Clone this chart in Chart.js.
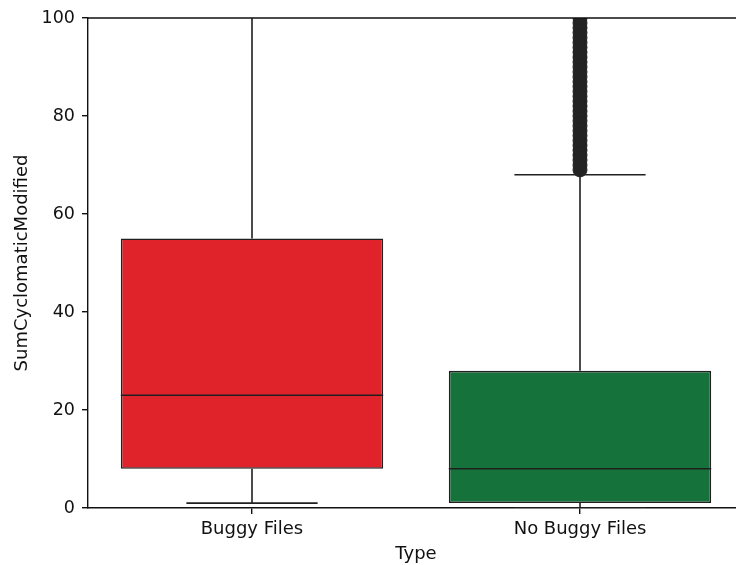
<!DOCTYPE html>
<html>
<head>
<meta charset="utf-8">
<script src="https://cdn.jsdelivr.net/npm/chart.js@4/dist/chart.umd.min.js"></script>
<style>
  html, body { margin: 0; padding: 0; background: #fff; overflow: hidden; }
  #wrap { width: 760px; height: 565px; }
</style>
</head>
<body>
<div id="wrap"><canvas id="c" width="760" height="565"></canvas></div>
<script>
// Box-plot summary per file group
const categories = ['Buggy Files', 'No Buggy Files'];
const lowerWhisker = [1, 0];
const q1Values = [8, 1];
const medianValues = [23, 8];
const q3Values = [55, 28];
const upperWhisker = [130, 68];
const boxColors = ['#e0232a', '#16723b'];

// Outliers of the "No Buggy Files" group (values above the upper whisker)
const outlierCategory = 'No Buggy Files';
const outlierValues = [69, 70, 71, 72, 73, 74, 75, 76, 77, 78, 79, 80, 81, 82, 83, 84, 85, 86, 87, 88,
  89, 90, 91, 92, 93, 94, 95, 96, 97, 98, 99, 100, 104, 110, 118, 131, 150];

const yTicks = [0, 20, 40, 60, 80, 100];

const LINE = '#202020';
const FONT = 'DejaVu Sans';

// Whiskers, caps and medians drawn around the floating-bar boxes
const boxPlotLines = {
  id: 'boxPlotLines',
  beforeDatasetsDraw(chart) {
    const { ctx, chartArea, scales: { y } } = chart;
    const meta = chart.getDatasetMeta(0);
    ctx.save();
    ctx.beginPath();
    ctx.rect(chartArea.left, chartArea.top, chartArea.right - chartArea.left, chartArea.bottom - chartArea.top);
    ctx.clip();
    ctx.strokeStyle = LINE;
    ctx.lineWidth = 1.6;
    meta.data.forEach((bar, i) => {
      const x = bar.x;
      const half = bar.width / 4;
      const yLo = y.getPixelForValue(lowerWhisker[i]);
      const yQ1 = y.getPixelForValue(q1Values[i]);
      const yQ3 = y.getPixelForValue(q3Values[i]);
      const yHi = y.getPixelForValue(upperWhisker[i]);
      ctx.beginPath();
      ctx.moveTo(x, yQ3); ctx.lineTo(x, yHi);
      ctx.moveTo(x, yQ1); ctx.lineTo(x, yLo);
      ctx.moveTo(x - half, yLo); ctx.lineTo(x + half, yLo);
      ctx.moveTo(x - half, yHi); ctx.lineTo(x + half, yHi);
      ctx.stroke();
    });
    ctx.restore();
  },
  afterDatasetsDraw(chart) {
    const { ctx, chartArea, scales: { y } } = chart;
    const meta = chart.getDatasetMeta(0);
    ctx.save();
    ctx.strokeStyle = LINE;
    ctx.lineWidth = 1.6;
    meta.data.forEach((bar, i) => {
      const ym = y.getPixelForValue(medianValues[i]);
      ctx.beginPath();
      ctx.moveTo(bar.x - bar.width / 2, ym);
      ctx.lineTo(bar.x + bar.width / 2, ym);
      ctx.stroke();
    });
    // top and right frame lines
    ctx.strokeStyle = '#111';
    ctx.lineWidth = 1.4;
    ctx.beginPath();
    ctx.moveTo(chartArea.left, chartArea.top);
    ctx.lineTo(chartArea.right, chartArea.top);
    ctx.lineTo(chartArea.right, chartArea.bottom);
    ctx.stroke();
    ctx.restore();
  }
};

new Chart(document.getElementById('c'), {
  type: 'bar',
  data: {
    labels: categories,
    datasets: [
      {
        label: 'IQR',
        data: q1Values.map((v, i) => [v, q3Values[i]]),
        backgroundColor: boxColors,
        borderColor: LINE,
        borderWidth: 1.6,
        borderSkipped: false,
        barPercentage: 0.8,
        categoryPercentage: 1.0,
        order: 2
      },
      {
        type: 'line',
        label: 'Outliers',
        data: outlierValues.map(v => ({ x: outlierCategory, y: v })),
        showLine: false,
        pointStyle: 'circle',
        pointRadius: 7,
        pointBackgroundColor: '#232323',
        pointBorderColor: '#232323',
        pointBorderWidth: 1,
        clip: 0,
        order: 1
      }
    ]
  },
  options: {
    responsive: false,
    animation: false,
    devicePixelRatio: 1,
    layout: { padding: { top: 18, right: 16, left: 0, bottom: 0 } },
    plugins: { legend: { display: false }, tooltip: { enabled: false } },
    scales: {
      x: {
        type: 'category',
        offset: true,
        grid: { display: true, drawOnChartArea: false, drawTicks: true, tickLength: 6, color: '#111', offset: false, lineWidth: 1.4 },
        border: { display: true, color: '#111', width: 1.4 },
        ticks: { color: '#111', font: { family: FONT, size: 18 }, padding: 5 },
        title: { display: true, text: 'Type', color: '#111', font: { family: FONT, size: 18 }, padding: { top: 0, bottom: 0 } },
        afterFit(scale) { scale.height = 57; }
      },
      y: {
        min: 0,
        max: 100,
        afterBuildTicks(scale) { scale.ticks = yTicks.map(v => ({ value: v })); },
        grid: { display: true, drawOnChartArea: false, drawTicks: true, tickLength: 6, color: '#111', lineWidth: 1.4 },
        border: { display: true, color: '#111', width: 1.4 },
        ticks: { color: '#111', font: { family: FONT, size: 17.5 }, padding: 7 },
        title: { display: true, text: 'SumCyclomaticModified', color: '#111', font: { family: FONT, size: 18 }, padding: { top: 12, bottom: 0 } },
        afterFit(scale) { scale.width = 88; }
      }
    }
  },
  plugins: [boxPlotLines]
});
</script>
</body>
</html>
